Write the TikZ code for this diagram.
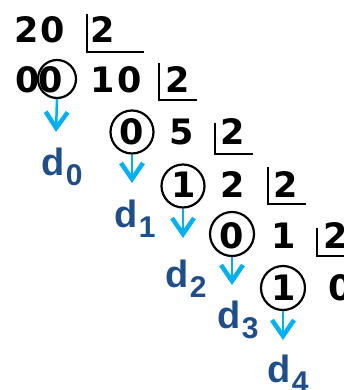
\documentclass[tikz,border=0pt]{standalone}
\usepackage{fontspec}
\setmainfont{Liberation Sans}
\newfontfamily\digfont{DejaVu Sans}
\usetikzlibrary{arrows.meta}
\definecolor{arrcyan}{HTML}{00B0F0}
\definecolor{dblue}{HTML}{1F4E89}
\newcommand\dsub[1]{\kern1.5pt\raisebox{-10pt}{\fontsize{30}{30}\selectfont #1}}
\newcommand\dgt[1]{#1}
\tikzset{
  dig/.style={inner sep=0pt, anchor=base, font=\digfont\bfseries\fontsize{35}{35}\selectfont},
  circ/.style={draw, circle, line width=2.2pt, inner sep=0pt, minimum size=#1},
  brk/.style={line width=1.6pt},
  arr/.style={arrcyan, line width=2.5pt, -{Straight Barb[length=16pt,width=22pt,line width=4.5pt]}},
  dlab/.style={inner sep=0pt, anchor=base west, text=dblue, font=\bfseries\fontsize{38}{38}\selectfont},
}
\begin{document}
\begin{tikzpicture}[x=1pt,y=-1pt]
\useasboundingbox (0,0) rectangle (344,390);
\clip (0,0) rectangle (344,390);
% row 1
\node[dig] (r1a) at (26.5,43) {\dgt{2}};
\node[dig] (r1b) at (52.5,43) {\dgt{0}};
\node[dig] (r1c) at (102.5,43) {\dgt{2}};
\draw[brk] (87,14) -- (87,52) -- (144,52);
% row 2
\node[dig] (r2a) at (27.5,93) {\dgt{0}};
\node[dig] (r2b) at (51,93) {\dgt{0}};
\node[dig] (r2c) at (103,93) {\dgt{1}};
\node[dig] (r2d) at (130,93) {\dgt{0}};
\node[dig] (r2e) at (178,93) {\dgt{2}};
\draw[brk] (159,63) -- (159,100) -- (197,100);
\node[circ=38pt] (c1) at (57,79) {};
% row 3
\node[dig] (r3a) at (132,145) {\dgt{0}};
\node[dig] (r3b) at (182,145) {\dgt{5}};
\node[dig] (r3c) at (233,145) {\dgt{2}};
\draw[brk] (215,123) -- (215,154) -- (253,154);
\node[circ=43pt] (c2) at (132,132) {};
% row 4
\node[dig] (r4a) at (184,197) {\dgt{1}};
\node[dig] (r4b) at (233,197) {\dgt{2}};
\node[dig] (r4c) at (286,197) {\dgt{2}};
\draw[brk] (268,167) -- (268,204) -- (306,204);
\node[circ=43pt] (c3) at (183,186) {};
% row 5
\node[dig] (r5a) at (232,248) {\dgt{0}};
\node[dig] (r5b) at (284,248) {\dgt{1}};
\node[dig] (r5c) at (336,248) {\dgt{2}};
\draw[brk] (317,228) -- (317,256) -- (350,256);
\node[circ=44pt] (c4) at (232,234) {};
% row 6
\node[dig] (r6a) at (284,300) {\dgt{1}};
\node[dig] (r6b) at (341,300) {\dgt{0}};
\node[circ=44pt] (c5) at (283,288) {};
% arrows
\coordinate (t1) at (56,132);
\coordinate (t2) at (132,183);
\coordinate (t3) at (183,238);
\coordinate (t4) at (232,285);
\coordinate (t5) at (283,340);
\draw[arr] (c1.south) -- (t1);
\draw[arr] (c2.south) -- (t2);
\draw[arr] (c3.south) -- (t3);
\draw[arr] (c4.south) -- (t4);
\draw[arr] (c5.south) -- (t5);
% labels
\node[dlab] (d0) at (41,175) {d\dsub{0}};
\node[dlab] (d1) at (114,227) {d\dsub{1}};
\node[dlab] (d2) at (165,287) {d\dsub{2}};
\node[dlab] (d3) at (217,328) {d\dsub{3}};
\node[dlab] (d4) at (267,382) {d\dsub{4}};
\end{tikzpicture}
\end{document}
